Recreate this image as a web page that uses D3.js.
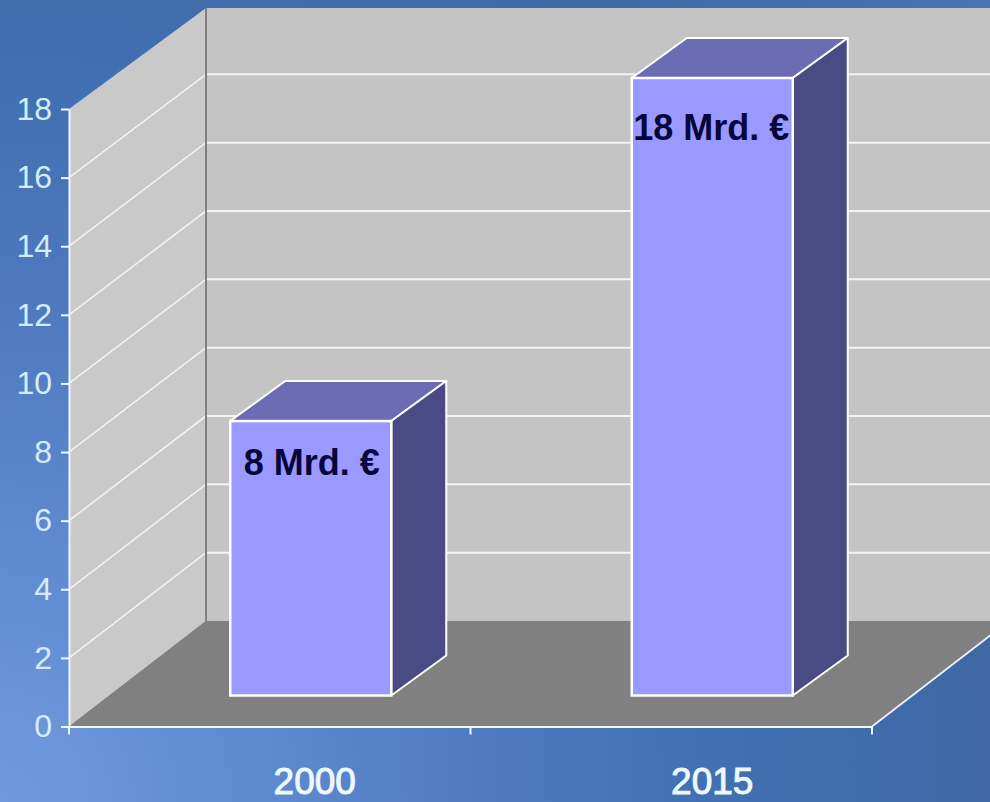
<!DOCTYPE html>
<html>

	<head>
		<meta charset="UTF-8">
		<title></title>
		<style type="text/css">
			html, body {
				margin: 0;
				padding: 0;
				overflow: hidden;
			}
			svg {
				display: block;
				font-family: "Liberation Sans", Arial, sans-serif;
			}
		</style>
	</head>

	<body>
		<div class="svgBox"></div>

		<script src="https://cdn.jsdelivr.net/npm/d3@7/dist/d3.min.js" type="text/javascript" charset="utf-8"></script>
		<script type="text/javascript">
			//data
			var categories = ["2000", "2015"];
			var values = [8, 18];
			var valueLabels = ["8 Mrd. €", "18 Mrd. €"];
			var yTicks = [0, 2, 4, 6, 8, 10, 12, 14, 16, 18];

			var width = 990;
			var height = 802;

			var svg = d3.select(".svgBox")
				.append("svg")
				.attr("width", width)
				.attr("height", height);

			//background gradient, light in the bottom left corner
			var grad = svg.append("defs").append("radialGradient")
				.attr("id", "bg")
				.attr("gradientUnits", "userSpaceOnUse")
				.attr("cx", 0)
				.attr("cy", 802)
				.attr("r", 1300);
			grad.append("stop").attr("offset", "0%").attr("stop-color", "#7199de");
			grad.append("stop").attr("offset", "20%").attr("stop-color", "#5f8ad0");
			grad.append("stop").attr("offset", "38%").attr("stop-color", "#5079bf");
			grad.append("stop").attr("offset", "54%").attr("stop-color", "#4270b2");
			grad.append("stop").attr("offset", "76%").attr("stop-color", "#3f68a5");
			grad.append("stop").attr("offset", "100%").attr("stop-color", "#4a74b4");

			svg.append("rect")
				.attr("width", width)
				.attr("height", height)
				.attr("fill", "url(#bg)");

			//scales
			var x0 = 69, x1 = 872;
			var y = d3.scaleLinear().domain([0, 18]).range([726.5, 109]);
			var yBack = d3.scaleLinear().domain([0, 18]).range([621, 6]);
			var x = d3.scaleBand().domain(categories).range([x0, x1]);
			var depthX = 137; //depth of the floor

			var barW = 161;
			var barShiftX = 41, barShiftY = 31; //where the front of the bar sits on the floor
			var sideX = 55, sideY = 40; //depth of the bar

			function pts(arr) {
				return arr.map(function(p) { return p.join(","); }).join(" ");
			}

			var wallTop = yBack(18) + 2;

			//back wall
			svg.append("polygon")
				.attr("points", pts([[x0 + depthX, wallTop], [width + 40, wallTop], [width + 40, yBack(0)], [x0 + depthX, yBack(0)]]))
				.attr("fill", "#c4c4c4");
			//side wall
			svg.append("polygon")
				.attr("points", pts([[x0, y(18)], [x0 + depthX, wallTop], [x0 + depthX, yBack(0)], [x0, y(0)]]))
				.attr("fill", "#c9c9c9");
			//floor
			svg.append("polygon")
				.attr("points", pts([[x0, y(0)], [x1, y(0)], [x1 + depthX, yBack(0)], [x0 + depthX, yBack(0)]]))
				.attr("fill", "#808080");

			//grid lines
			var gridTicks = yTicks.filter(function(d) { return d > 0 && d < 18; });
			svg.selectAll(".gridSide")
				.data(gridTicks)
				.enter()
				.append("line")
				.attr("x1", x0)
				.attr("y1", function(d) { return y(d); })
				.attr("x2", x0 + depthX)
				.attr("y2", function(d) { return yBack(d); })
				.attr("stroke", "#f2f2f2")
				.attr("stroke-width", 1.6);
			svg.selectAll(".gridBack")
				.data(gridTicks)
				.enter()
				.append("line")
				.attr("x1", x0 + depthX)
				.attr("y1", function(d) { return yBack(d); })
				.attr("x2", width)
				.attr("y2", function(d) { return yBack(d); })
				.attr("stroke", "#f4f4f4")
				.attr("stroke-width", 2);

			//corner between the walls
			svg.append("line")
				.attr("x1", x0 + depthX)
				.attr("y1", wallTop)
				.attr("x2", x0 + depthX)
				.attr("y2", yBack(0))
				.attr("stroke", "#808080")
				.attr("stroke-width", 2);

			//floor edge on the right
			svg.append("line")
				.attr("x1", x1)
				.attr("y1", y(0))
				.attr("x2", x1 + depthX)
				.attr("y2", yBack(0))
				.attr("stroke", "#eef6ff")
				.attr("stroke-width", 1.6);

			//bars: front, top and side
			var bars = svg.selectAll(".bar")
				.data(values)
				.enter()
				.append("g")
				.attr("class", "bar");

			function barLeft(i) {
				return x(categories[i]) + (x.bandwidth() - barW) / 2 + barShiftX;
			}

			bars.append("polygon")
				.attr("points", function(d, i) {
					var l = barLeft(i), t = y(d) - barShiftY;
					return pts([[l, t], [l + barW, t], [l + barW + sideX, t - sideY], [l + sideX, t - sideY]]);
				})
				.attr("fill", "#6c6cb4")
				.attr("stroke", "#fff")
				.attr("stroke-width", 2)
				.attr("stroke-linejoin", "round");
			bars.append("polygon")
				.attr("points", function(d, i) {
					var r = barLeft(i) + barW, t = y(d) - barShiftY, b = y(0) - barShiftY;
					return pts([[r, t], [r + sideX, t - sideY], [r + sideX, b - sideY], [r, b]]);
				})
				.attr("fill", "#4a4a84")
				.attr("stroke", "#fff")
				.attr("stroke-width", 2)
				.attr("stroke-linejoin", "round");
			bars.append("rect")
				.attr("x", function(d, i) { return barLeft(i); })
				.attr("y", function(d) { return y(d) - barShiftY; })
				.attr("width", barW)
				.attr("height", function(d) { return y(0) - y(d); })
				.attr("fill", "#9999ff")
				.attr("stroke", "#fff")
				.attr("stroke-width", 2.5);

			//value labels
			bars.append("text")
				.attr("x", function(d, i) { return barLeft(i) + barW / 2 - (i == 1 ? 1 : -1); })
				.attr("y", function(d, i) { return y(d) - barShiftY + (i == 1 ? 62 : 54); })
				.attr("text-anchor", "middle")
				.attr("font-size", 36)
				.attr("font-weight", "bold")
				.attr("fill", "#06063c")
				.text(function(d, i) { return valueLabels[i]; });

			//y axis
			var yAxis = svg.append("g")
				.attr("transform", "translate(" + x0 + ",0)")
				.call(d3.axisLeft(y).tickValues(yTicks).tickSize(8).tickPadding(9).tickSizeOuter(0));
			yAxis.selectAll("path, line")
				.attr("stroke", "#eef8ff")
				.attr("stroke-width", 2);
			yAxis.selectAll("text")
				.attr("font-family", "\"Liberation Sans\", Arial, sans-serif")
				.attr("font-size", 32)
				.attr("fill", "#d4ecfb");

			//x axis
			var xAxis = svg.append("g")
				.attr("transform", "translate(0," + y(0) + ")")
				.call(d3.axisBottom(x).tickSize(0).tickPadding(0));
			xAxis.select("path")
				.attr("stroke", "#eef8ff")
				.attr("stroke-width", 2);
			xAxis.selectAll(".tick text")
				.attr("font-family", "\"Liberation Sans\", Arial, sans-serif")
				.attr("font-size", 37)
				.attr("fill", "#eef8ff")
				.attr("stroke", "#eef8ff")
				.attr("stroke-width", 1)
				.attr("dy", 0)
				.attr("y", 67)
				.attr("x", function(d, i) { return barShiftX + (i == 1 ? 0 : 4); });
			//ticks between the categories
			xAxis.selectAll(".edge")
				.data(categories.map(function(d) { return x(d); }).concat([x1]))
				.enter()
				.append("line")
				.attr("x1", function(d) { return d; })
				.attr("x2", function(d) { return d; })
				.attr("y1", 0)
				.attr("y2", 8)
				.attr("stroke", "#eef8ff")
				.attr("stroke-width", 2);
		</script>
	</body>

</html>
